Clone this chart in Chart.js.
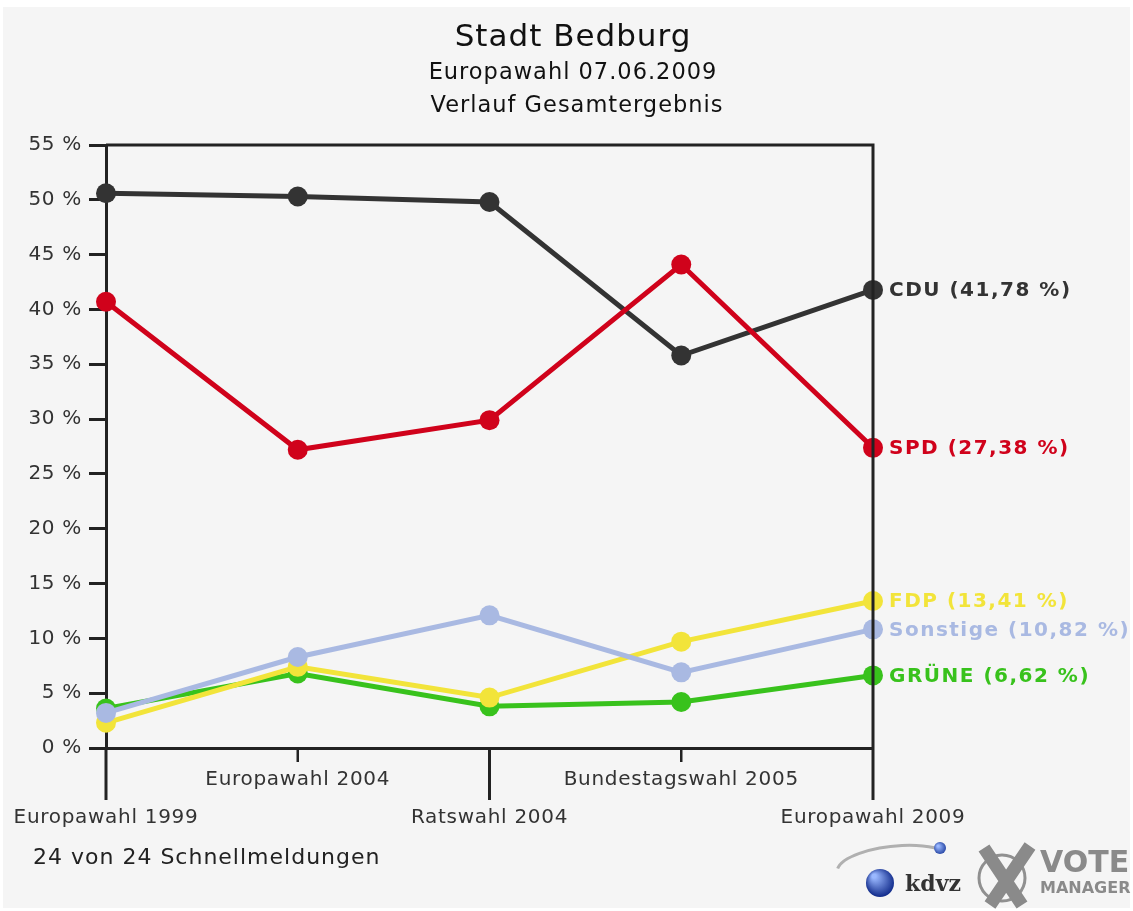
<!DOCTYPE html>
<html>
<head>
<meta charset="utf-8">
<script src="https://cdn.jsdelivr.net/npm/chart.js@4.4.1/dist/chart.umd.min.js"></script>
<style>
  body { margin: 0; background: #ffffff; }
  canvas { display: block; }
</style>
</head>
<body>
<canvas id="myChart" width="1133" height="911"></canvas>
<script>
const categories = ['Europawahl 1999', 'Europawahl 2004', 'Ratswahl 2004', 'Bundestagswahl 2005', 'Europawahl 2009'];
const cdu = [50.6, 50.3, 49.8, 35.8, 41.78];
const spd = [40.7, 27.2, 29.9, 44.1, 27.38];
const fdp = [2.3, 7.4, 4.6, 9.7, 13.41];
const sonstige = [3.2, 8.3, 12.1, 6.9, 10.82];
const gruene = [3.6, 6.8, 3.8, 4.2, 6.62];
const yTickValues = [0, 5, 10, 15, 20, 25, 30, 35, 40, 45, 50, 55];

const titleLines = ['Stadt Bedburg', 'Europawahl 07.06.2009', 'Verlauf Gesamtergebnis'];
const footnote = '24 von 24 Schnellmeldungen';

const axisColor = '#222222';
const textColor = '#333333';

function series(name, values, color, order) {
    return {
        label: name,
        data: values,
        borderColor: color,
        backgroundColor: color,
        pointBackgroundColor: color,
        pointBorderWidth: 0,
        pointRadius: 10,
        borderWidth: 5,
        tension: 0,
        clip: false,
        order: order
    };
}

// background, titles, frame, x ticks, end labels and logo
const decorations = {
    id: 'decorations',
    beforeDraw(chart) {
        const ctx = chart.ctx;
        ctx.save();
        ctx.fillStyle = '#ffffff';
        ctx.fillRect(0, 0, chart.width, chart.height);
        ctx.fillStyle = '#f5f5f5';
        ctx.fillRect(3, 7, chart.width - 6, chart.height - 10);

        ctx.fillStyle = '#111111';
        ctx.textAlign = 'center';
        ctx.textBaseline = 'middle';
        ctx.letterSpacing = '1px';
        ctx.font = '31px "DejaVu Sans"';
        ctx.fillText(titleLines[0], 573, 38);
        ctx.font = '22.5px "DejaVu Sans"';
        ctx.fillText(titleLines[1], 573, 73);
        ctx.fillText(titleLines[2], 577, 106);

        ctx.textAlign = 'left';
        ctx.fillStyle = '#222222';
        ctx.font = '22px "DejaVu Sans"';
        ctx.fillText(footnote, 33, 858);
        ctx.restore();
        // a little spacing for the axis labels drawn next
        ctx.letterSpacing = '0.7px';
    },
    afterDraw(chart) {
        const ctx = chart.ctx;
        const area = chart.chartArea;
        const x = chart.scales.x;
        ctx.save();
        ctx.strokeStyle = axisColor;
        ctx.lineCap = 'butt';
        // frame: top and right
        ctx.lineWidth = 3;
        ctx.beginPath();
        ctx.moveTo(area.left, area.top);
        ctx.lineTo(area.right, area.top);
        ctx.lineTo(area.right, area.bottom);
        ctx.stroke();
        // x ticks, alternating length
        categories.forEach((c, i) => {
            const px = x.getPixelForTick(i);
            ctx.lineWidth = i % 2 === 0 ? 3 : 2.5;
            ctx.beginPath();
            ctx.moveTo(px, area.bottom);
            ctx.lineTo(px, area.bottom + (i % 2 === 0 ? 52 : 14));
            ctx.stroke();
        });

        // end labels
        ctx.textAlign = 'left';
        ctx.textBaseline = 'middle';
        ctx.font = 'bold 20px "DejaVu Sans"';
        ctx.letterSpacing = '1.5px';
        chart.data.datasets.forEach((ds, di) => {
            const meta = chart.getDatasetMeta(di);
            const last = meta.data[meta.data.length - 1];
            const v = ds.data[ds.data.length - 1];
            ctx.fillStyle = ds.borderColor;
            ctx.fillText(ds.label + ' (' + v.toFixed(2).replace('.', ',') + ' %)', last.x + 16, last.y + 1);
        });

        // logo
        ctx.letterSpacing = '0px';
        ctx.strokeStyle = '#b0b0b0';
        ctx.lineWidth = 3;
        ctx.beginPath();
        ctx.ellipse(895, 866, 58, 20, -0.1, Math.PI * 1.05, Math.PI * 1.75);
        ctx.stroke();
        let g = ctx.createRadialGradient(874, 876, 2, 880, 882, 15);
        g.addColorStop(0, '#9ab8ff');
        g.addColorStop(1, '#102a8a');
        ctx.fillStyle = g;
        ctx.beginPath();
        ctx.arc(880, 883, 14, 0, Math.PI * 2);
        ctx.fill();
        g = ctx.createRadialGradient(938, 846, 1, 940, 848, 7);
        g.addColorStop(0, '#9ab8ff');
        g.addColorStop(1, '#1a3a9a');
        ctx.fillStyle = g;
        ctx.beginPath();
        ctx.arc(940, 848, 6, 0, Math.PI * 2);
        ctx.fill();
        ctx.fillStyle = '#333333';
        ctx.font = 'bold 22px "DejaVu Serif"';
        ctx.fillText('kdvz', 905, 885);
        ctx.strokeStyle = '#909090';
        ctx.lineWidth = 3;
        ctx.beginPath();
        ctx.arc(1002, 878, 23, 0, Math.PI * 2);
        ctx.stroke();
        ctx.lineWidth = 13;
        ctx.strokeStyle = '#8a8a8a';
        ctx.beginPath();
        ctx.moveTo(984, 848);
        ctx.lineTo(1022, 905);
        ctx.moveTo(1030, 846);
        ctx.lineTo(990, 905);
        ctx.stroke();
        ctx.fillStyle = '#8a8a8a';
        ctx.font = 'bold 30px "DejaVu Sans"';
        ctx.fillText('VOTE', 1040, 864);
        ctx.font = 'bold 16px "DejaVu Sans"';
        ctx.fillText('MANAGER', 1040, 889);
        ctx.restore();
        ctx.letterSpacing = '0px';
    }
};

const ctx = document.getElementById('myChart').getContext('2d');
const myChart = new Chart(ctx, {
    type: 'line',
    data: {
        labels: categories,
        datasets: [
            series('CDU', cdu, '#333333', 4),
            series('SPD', spd, '#d0021b', 3),
            series('FDP', fdp, '#f2e43a', 1),
            series('Sonstige', sonstige, '#a9b9e2', 0),
            series('GRÜNE', gruene, '#38c21c', 2)
        ]
    },
    options: {
        responsive: false,
        animation: false,
        devicePixelRatio: 1,
        layout: {
            padding: { left: 0, top: 145, right: 260, bottom: 0 }
        },
        plugins: {
            legend: { display: false },
            tooltip: { enabled: false },
            title: { display: false }
        },
        scales: {
            x: {
                type: 'category',
                offset: false,
                grid: { display: false },
                border: { display: true, color: axisColor, width: 3 },
                afterFit: s => { s.height = 163; },
                ticks: {
                    autoSkip: false,
                    maxRotation: 0,
                    minRotation: 0,
                    padding: 5,
                    color: textColor,
                    font: { family: 'DejaVu Sans', size: 20, lineHeight: 1.9 },
                    callback: (v, i) => i % 2 === 0 ? ['', categories[i]] : categories[i]
                }
            },
            y: {
                min: 0,
                max: 55,
                afterFit: s => { s.width = 106; },
                afterBuildTicks: s => { s.ticks = yTickValues.map(v => ({ value: v })); },
                grid: {
                    display: true,
                    drawOnChartArea: false,
                    drawTicks: true,
                    tickLength: 17,
                    tickWidth: 3,
                    tickColor: axisColor
                },
                border: { display: true, color: axisColor, width: 3 },
                ticks: {
                    padding: 7,
                    color: textColor,
                    font: { family: 'DejaVu Sans', size: 20 },
                    callback: v => v + ' %'
                }
            }
        }
    },
    plugins: [decorations]
});
</script>
</body>
</html>
